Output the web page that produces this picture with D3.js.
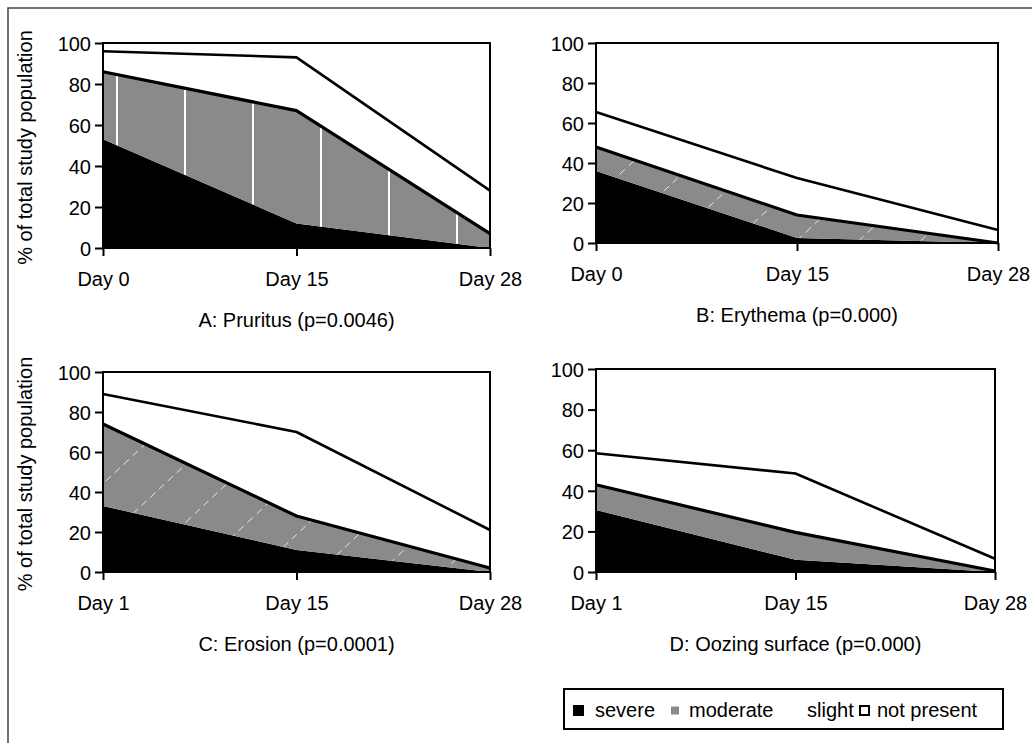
<!DOCTYPE html>
<html>
<head>
<meta charset="utf-8">
<script src="https://cdn.jsdelivr.net/npm/d3@7"></script>
<style>
  body { margin: 0; background: #fff; }
  svg { display: block; font-family: Arial, "Liberation Sans", sans-serif; }
</style>
</head>
<body>
<svg width="1032" height="743"></svg>
<script>
const daysAB = ['Day 0', 'Day 15', 'Day 28'];
const daysCD = ['Day 1', 'Day 15', 'Day 28'];
const yTicks = [0, 20, 40, 60, 80, 100];
const levels = ['severe', 'moderate', 'slight'];

// percent of patients per grade, one value per visit
const severeA = [53, 12, 0], moderateA = [33, 55, 7], slightA = [10, 26, 21];
const severeB = [36, 2.5, 0], moderateB = [12, 11.5, 0], slightB = [17.5, 18.5, 6.5];
const severeC = [33, 11, 0], moderateC = [41, 17, 2], slightC = [15, 42, 19];
const severeD = [30.5, 6, 0], moderateD = [12.5, 13.5, 0.5], slightD = [15.5, 29, 6];

const titles = ['A: Pruritus (p=0.0046)', 'B: Erythema (p=0.000)', 'C: Erosion (p=0.0001)', 'D: Oozing surface (p=0.000)'];

const panels = [
  {days: daysAB, s: severeA, m: moderateA, l: slightA, x0: 103, x1: 490, y0: 43, y1: 248, title: titles[0], yLabel: true, fill: 'url(#stripeV)'},
  {days: daysAB, s: severeB, m: moderateB, l: slightB, x0: 596, x1: 998, y0: 43, y1: 243, title: titles[1], fill: 'url(#stripeD)'},
  {days: daysCD, s: severeC, m: moderateC, l: slightC, x0: 103, x1: 490, y0: 372, y1: 572, title: titles[2], yLabel: true, fill: 'url(#stripeD)'},
  {days: daysCD, s: severeD, m: moderateD, l: slightD, x0: 596, x1: 995, y0: 369, y1: 572, title: titles[3], fill: '#8a8a8a'}
];

const svg = d3.select('svg');
const defs = svg.append('defs');
const grey = '#8a8a8a';

// vertical white streaks seen in panel A
const stripe = defs.append('pattern').attr('id', 'stripeV')
  .attr('patternUnits', 'userSpaceOnUse').attr('width', 68).attr('height', 10).attr('x', 116);
stripe.append('rect').attr('width', 68).attr('height', 10).attr('fill', grey);
stripe.append('rect').attr('width', 2).attr('height', 10).attr('fill', '#fff');

// faint dashed diagonals seen in B and C
const diag = defs.append('pattern').attr('id', 'stripeD')
  .attr('patternUnits', 'userSpaceOnUse').attr('width', 62).attr('height', 58);
diag.append('rect').attr('width', 62).attr('height', 58).attr('fill', grey);
diag.append('line').attr('x1', 0).attr('y1', 58).attr('x2', 62).attr('y2', 0)
  .attr('stroke', '#fff').attr('stroke-width', 1).attr('stroke-dasharray', '7 5').attr('opacity', 0.8);

// outer frame (top / left)
svg.append('path').attr('d', 'M8,743V8H1032').attr('fill', 'none').attr('stroke', '#444').attr('stroke-width', 1.5);

panels.forEach((p, i) => {
  const rows = p.days.map((d, j) => ({day: d, severe: p.s[j], moderate: p.m[j], slight: p.l[j]}));
  const stacked = d3.stack().keys(levels)(rows);

  const x = d3.scalePoint().domain(p.days).range([p.x0, p.x1]);
  const y = d3.scaleLinear().domain([0, 100]).range([p.y1, p.y0]);

  const g = svg.append('g');

  const area = d3.area().x(d => x(d.data.day)).y0(d => y(d[0])).y1(d => y(d[1]));
  const top = d3.line().x(d => x(d.data.day)).y(d => y(d[1]));
  const fills = {severe: '#000', moderate: p.fill, slight: '#fff'};

  g.selectAll('path.area').data(stacked).join('path')
    .attr('class', 'area')
    .attr('d', area)
    .attr('fill', d => fills[d.key]);

  g.selectAll('path.edge').data(stacked.filter(s => s.key !== 'severe')).join('path')
    .attr('class', 'edge')
    .attr('d', top)
    .attr('fill', 'none')
    .attr('stroke', '#000')
    .attr('stroke-width', d => d.key === 'moderate' ? 3.2 : 2.6)
    .attr('stroke-linejoin', 'round');

  g.append('rect')
    .attr('x', p.x0).attr('y', p.y0)
    .attr('width', p.x1 - p.x0).attr('height', p.y1 - p.y0)
    .attr('fill', 'none').attr('stroke', '#000').attr('stroke-width', 2);

  const yAxis = g.append('g').attr('transform', `translate(${p.x0},0)`)
    .call(d3.axisLeft(y).tickValues(yTicks).tickSize(8).tickPadding(4));
  const xAxis = g.append('g').attr('transform', `translate(0,${p.y1})`)
    .call(d3.axisBottom(x).tickSize(8).tickPadding(16));

  [yAxis, xAxis].forEach(a => {
    a.select('.domain').remove();
    a.selectAll('line').attr('stroke', '#000').attr('stroke-width', 2);
    a.selectAll('text').attr('font-size', 20).attr('fill', '#000').attr('font-family', 'Arial, "Liberation Sans", sans-serif');
  });
  yAxis.selectAll('text').attr('dy', '0.36em');
  xAxis.selectAll('text').attr('dy', '0.72em');

  g.append('text')
    .attr('x', (p.x0 + p.x1) / 2)
    .attr('y', p.y1 + 79)
    .attr('text-anchor', 'middle')
    .attr('font-size', 20)
    .text(p.title);

  if (p.yLabel) {
    g.append('text')
      .attr('transform', `translate(32,${(p.y0 + p.y1) / 2 + 2}) rotate(-90)`)
      .attr('text-anchor', 'middle')
      .attr('font-size', 20)
      .text('% of total study population');
  }
});

// legend
const leg = svg.append('g');
leg.append('rect').attr('x', 564).attr('y', 689).attr('width', 439).attr('height', 40)
  .attr('fill', '#fff').attr('stroke', '#000').attr('stroke-width', 2);

const legItems = [
  {label: 'severe', sw: 573, tx: 595, fill: '#000', size: 11},
  {label: 'moderate', sw: 671, tx: 689, fill: grey, size: 8},
  {label: 'slight', sw: null, tx: 807, fill: null, size: 0},
  {label: 'not present', sw: 860, tx: 877, fill: '#fff', size: 9}
];
legItems.forEach(it => {
  if (it.sw !== null) {
    leg.append('rect')
      .attr('x', it.sw).attr('y', 710 - it.size / 2 + 0.5)
      .attr('width', it.size).attr('height', it.size)
      .attr('fill', it.fill)
      .attr('stroke', it.label === 'not present' ? '#000' : 'none')
      .attr('stroke-width', 2);
  }
  leg.append('text').attr('x', it.tx).attr('y', 717).attr('font-size', 20).text(it.label);
});
</script>
</body>
</html>
